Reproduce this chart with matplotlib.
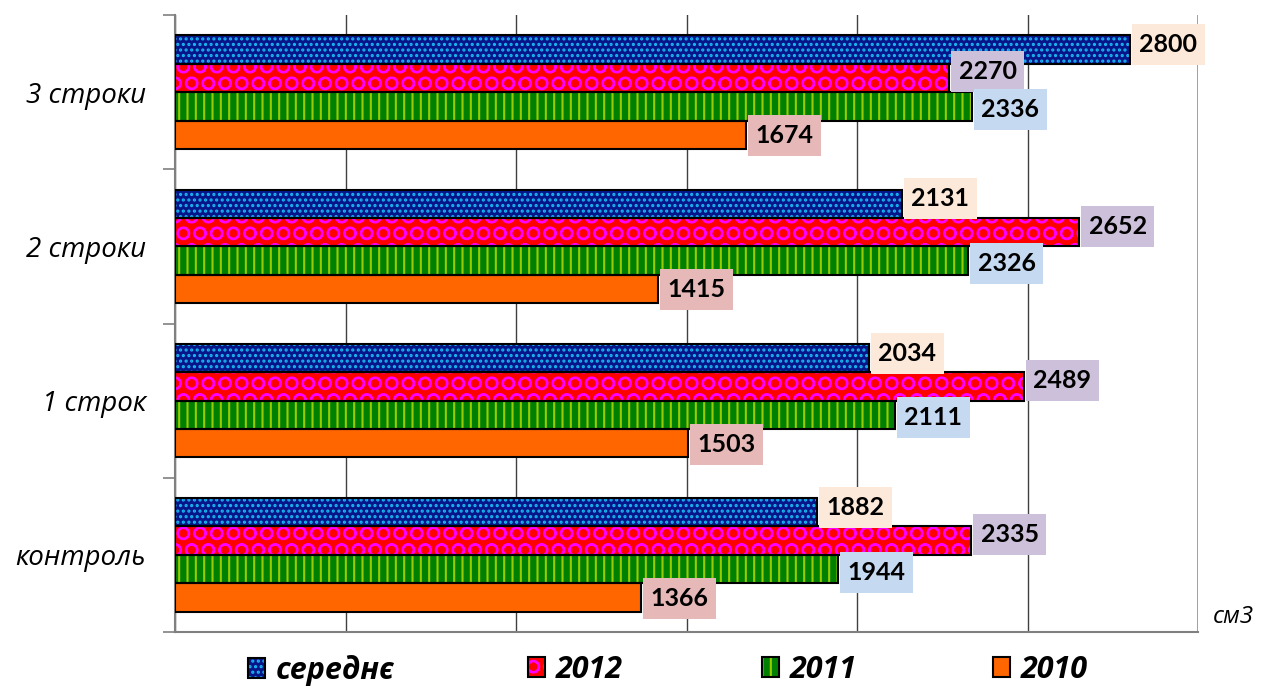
import matplotlib.pyplot as plt
from matplotlib.patches import Patch
from matplotlib.path import Path
from matplotlib.legend_handler import HandlerTuple
import numpy as np

# data: categories bottom -> top, one list per series
categories = ["контроль", "1 строк", "2 строки", "3 строки"]
series_names = ["середнє", "2012", "2011", "2010"]
avg_vals = [1882, 2034, 2131, 2800]
y2012_vals = [2335, 2489, 2652, 2270]
y2011_vals = [1944, 2111, 2326, 2336]
y2010_vals = [1366, 1503, 1415, 1674]
unit_label = "см3"

plt.rcParams['hatch.linewidth'] = 1.5

PAD_X, PAD_Y = 0.3, 0.36


def label_box(x0, y0, width, height, mutation_size):
    # rectangle with more padding above/below than at the sides
    px, py = PAD_X * mutation_size, PAD_Y * mutation_size
    x0, y0 = x0 - px, y0 - py
    x1, y1 = x0 + width + 2 * px, y0 + height + 2 * py
    return Path([(x0, y0), (x1, y0), (x1, y1), (x0, y1), (x0, y0)], closed=True)


fig = plt.figure(figsize=(12.61, 6.86), dpi=100)
ax = fig.add_axes([175 / 1261, 54 / 686, 1023 / 1261, 617 / 686])

# face colour, hatch, hatch colour, label box colour
styles = [
    ("#06168a", "...", "#19b8f0", "#fde9d9"),
    ("#ff0000", "O", "#ff00ff", "#ccc0da"),
    ("#008000", "||", "#99cc00", "#c5d9f1"),
    ("#ff6600", None, None, "#e6b9b8"),
]
values = [avg_vals, y2012_vals, y2011_vals, y2010_vals]
h = 0.184
offsets = [1.5 * h, 0.5 * h, -0.5 * h, -1.5 * h]
label_dy = [5, 6, -3, -1]
label_fs = 18

y = np.arange(len(categories))
handles = []
for vals, off, (fc, hatch, hc, boxc), dy in zip(values, offsets, styles, label_dy):
    ax.barh(y + off, vals, height=h, color=fc, linewidth=0, zorder=2)
    if hatch:
        ax.barh(y + off, vals, height=h, color="none", edgecolor=hc,
                hatch=hatch, linewidth=0, zorder=3)
    ax.barh(y + off, vals, height=h, color="none", edgecolor="black",
            linewidth=1.5, zorder=4)
    for yi, v in zip(y + off, vals):
        ax.annotate(str(v), xy=(v, yi), xytext=(PAD_X * label_fs * 100 / 72 + 2, dy),
                    textcoords="offset pixels", ha="left", va="center",
                    fontsize=label_fs, fontweight="bold",
                    family=["Lato", "DejaVu Sans"], zorder=6,
                    bbox=dict(boxstyle=label_box, fc=boxc, ec="none"))
    parts = [Patch(fc=fc, ec="none")]
    if hatch:
        parts.append(Patch(fc="none", ec=hc, hatch=hatch, lw=0))
    parts.append(Patch(fc="none", ec="black", lw=1.5))
    handles.append(tuple(parts))

ax.set_xlim(0, 3000)
ax.set_ylim(-0.5, len(categories) - 0.5)
ax.set_xticks(np.arange(0, 3001, 500))
ax.set_xticklabels([])
ax.tick_params(axis="x", length=0)
ax.grid(axis="x", color="#404040", linewidth=1, zorder=0)
ax.set_axisbelow(True)

ax.set_yticks(y)
ax.set_yticklabels(categories, fontsize=20, style="italic",
                   family=["Open Sans", "DejaVu Sans"])
ax.set_yticks(np.arange(-0.5, len(categories)), minor=True)
ax.tick_params(axis="y", which="major", length=0, pad=21)
ax.tick_params(axis="y", which="minor", length=9, color="#808080", width=1.2)

for s in ["top", "right"]:
    ax.spines[s].set_visible(False)
for s in ["left", "bottom"]:
    ax.spines[s].set_color("#808080")
    ax.spines[s].set_linewidth(1.5)
ax.axvline(3000, color="#909090", linewidth=1.8, zorder=1)

fig.text(1213 / 1261, 1 - 617 / 686, unit_label, fontsize=17.5, style="italic",
         family=["Open Sans", "DejaVu Sans"], va="center", ha="left")

# legend entries placed one by one along the bottom
legend_x = [248, 528, 762, 993]
for hnd, name, lx in zip(handles, series_names, legend_x):
    fig.legend(handles=[hnd], labels=[name], loc="center left",
               bbox_to_anchor=(lx / 1261, 1 - 670 / 686), frameon=False,
               handler_map={tuple: HandlerTuple(ndivide=1)},
               handlelength=0.56, handleheight=0.62, handletextpad=0.35,
               borderpad=0, borderaxespad=0,
               prop=dict(family=["Open Sans", "DejaVu Sans"], style="italic",
                         weight="bold", size=22))

fig.savefig("out.png", dpi=100)
